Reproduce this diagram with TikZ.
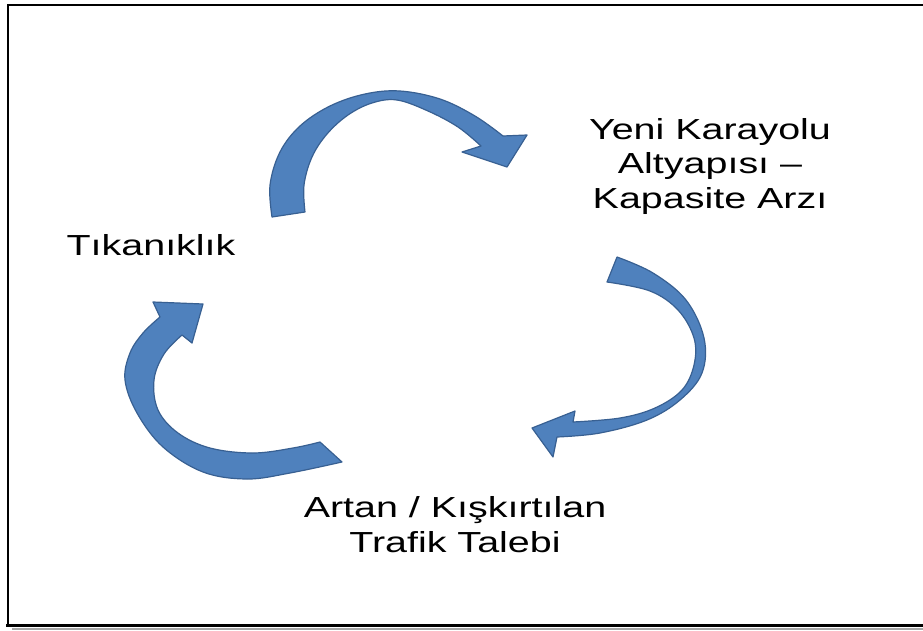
\documentclass[tikz,border=0pt]{standalone}
\usepackage{fontspec}
\setmainfont{Liberation Sans}
\definecolor{arrowfill}{RGB}{79,129,189}
\definecolor{arrowedge}{RGB}{56,96,146}
\tikzset{
  cyclearrow/.style={fill=arrowfill, draw=arrowedge, line width=1.2pt, line join=round},
  label/.style={align=center, xscale=1.36, font=\fontsize{29}{34.5}\selectfont, inner sep=0pt},
  frameline/.style={draw=black, line cap=rect}
}
\begin{document}
\begin{tikzpicture}[x=1pt,y=-1pt]
\useasboundingbox (0,0) rectangle (923,630);
% frame
\draw[frameline, line width=2.5pt] (8,5) -- (923,5);
\draw[frameline, line width=2.5pt] (8,5) -- (8,625);
\draw[draw=black!35, line width=2pt] (12,629) -- (923,629);
\draw[frameline, line width=3.5pt] (8,625.5) -- (923,625.5);

% labels (base anchor = baseline of last line)
\node[label, anchor=base] (yeni) at (710,208) {Yeni Karayolu\\Altyapısı –\\Kapasite Arzı};
\node[label, anchor=base] (tik) at (151,255) {Tıkanıklık};
\node[label, anchor=base] (artan) at (455,552) {Artan / Kışkırtılan\\Trafik Talebi};

% top arrow
\path[cyclearrow] (272,217)
  -- plot[smooth, tension=0.6] coordinates {(272,217) (270,185) (280,152) (300,126) (330,106) (365,94) (400,91) (440,99) (475,116) (503,136)}
  -- (527,135) -- (507,167) -- (462,152)
  -- plot[smooth, tension=0.6] coordinates {(481,146) (458,127) (428,111) (397,100) (372,103) (348,115) (327,134) (312,157) (304,185) (305,212)}
  -- cycle;

% right arrow
\path[cyclearrow] (617,257)
  -- plot[smooth, tension=0.6] coordinates {(617,257) (653,273) (686,300) (704,338) (702,373) (680,400) (647,420) (600,433) (557,437)}
  -- (553,457) -- (532,428) -- (575,411)
  -- plot[smooth, tension=0.6] coordinates {(573,422) (620,418) (655,408) (682,390) (694,365) (694,338) (678,310) (650,291) (607,282)}
  -- cycle;

% left arrow
\path[cyclearrow] (342,462)
  -- plot[smooth, tension=0.6] coordinates {(342,462) (290,473) (247,479) (203,472) (163,447) (137,413) (125,380) (130,353) (143,333) (160,317)}
  -- (153,302) -- (203,304) -- (192,343)
  -- plot[smooth, tension=0.6] coordinates {(182,335) (164,354) (154,380) (158,410) (178,433) (210,448) (253,453) (293,448) (320,442)}
  -- cycle;
\end{tikzpicture}
\end{document}
